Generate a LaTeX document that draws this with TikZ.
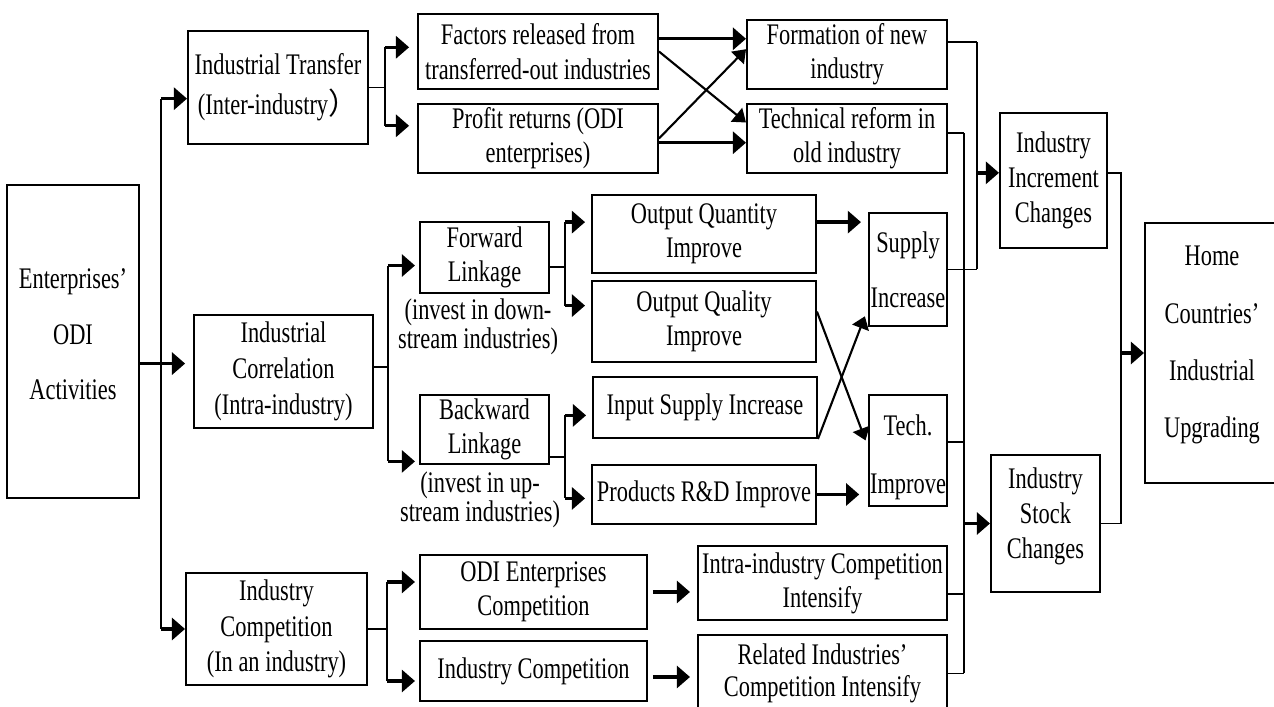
\documentclass[tikz,border=0pt]{standalone}
\usepackage{fontspec}
\setmainfont{Liberation Serif}[FakeStretch=0.75]
\newfontfamily\cjkfont{Noto Sans CJK SC}
\usetikzlibrary{arrows.meta}

\begin{document}
\begin{tikzpicture}[scale=0.2]
\tikzstyle{every node}+=[inner sep=0pt, align=center, font=\fontsize{17pt}{19.5pt}\selectfont]
\tikzstyle{box}=[draw=black, line width=1.1pt]
\tikzstyle{loose}=[font=\fontsize{17pt}{31.5pt}\selectfont]
\tikzstyle{tight}=[font=\fontsize{17pt}{16.5pt}\selectfont]
\tikzstyle{line}=[black, line width=1.1pt]
\tikzstyle{arr}=[black, line width=1.9pt, -{Triangle[length=7.5pt,width=12.5pt]}]
\tikzstyle{xarr}=[black, line width=1.2pt, -{Triangle[length=7pt,width=10pt]}]
\useasboundingbox (0,0) rectangle (127.4,-70.7);
\node [box, loose, text depth=8.4pt, minimum width=2.64cm, minimum height=6.26cm] (ent) at (7.3,-34.15) {Enterprises’\\ODI\\Activities};
\node [box, font=\fontsize{17pt}{23pt}\selectfont, minimum width=3.6cm, minimum height=2.26cm] (it) at (27.8,-8.75) {Industrial Transfer\\(Inter-industry{\cjkfont ）}};
\node [box, font=\fontsize{17pt}{20.5pt}\selectfont, minimum width=3.58cm, minimum height=2.26cm] (ic) at (28.35,-37.15) {Industrial\\Correlation\\(Intra-industry)};
\node [box, font=\fontsize{17pt}{20pt}\selectfont, minimum width=3.62cm, minimum height=2.24cm] (icp) at (27.65,-62.9) {Industry\\Competition\\(In an industry)};
\node [box, minimum width=4.8cm, minimum height=1.5cm] (fac) at (53.8,-5.15) {Factors released from\\transferred-out industries};
\node [box, minimum width=4.8cm, minimum height=1.38cm] (pr) at (53.8,-13.85) {Profit returns (ODI\\enterprises)};
\node [box, minimum width=4cm, minimum height=1.38cm] (fm) at (84.7,-5.45) {Formation of new\\industry};
\node [box, minimum width=4cm, minimum height=1.38cm] (tr) at (84.7,-13.85) {Technical reform in\\old industry};
\node [box, font=\fontsize{17pt}{20pt}\selectfont, minimum width=2.14cm, minimum height=2.7cm] (inc) at (105.35,-18.05) {Industry\\Increment\\Changes};
\node [box, font=\fontsize{17pt}{32.5pt}\selectfont, text depth=12.7pt, minimum width=2.68cm, minimum height=5.2cm] (home) at (121.2,-35.3) {Home\\Countries’\\Industrial\\Upgrading};
\node [box, minimum width=2.58cm, minimum height=1.42cm] (fl) at (48.45,-25.75) {Forward\\Linkage};
\node [tight] (flc) at (47.8,-32.7) {(invest in down-\\stream industries)};
\node [box, minimum width=2.58cm, minimum height=1.38cm] (bl) at (48.45,-42.95) {Backward\\Linkage};
\node [tight] (blc) at (48,-50) {(invest in up-\\stream industries)};
\node [box, minimum width=4.48cm, minimum height=1.56cm] (oqn) at (70.4,-23.4) {Output Quantity\\Improve};
\node [box, minimum width=4.48cm, minimum height=1.62cm] (oql) at (70.4,-32.15) {Output Quality\\Improve};
\node [box, minimum width=4.48cm, minimum height=1.22cm] (isi) at (70.5,-40.75) {Input Supply Increase};
\node [box, minimum width=4.48cm, minimum height=1.18cm] (prd) at (70.4,-49.45) {Products R\&D Improve};
\node [box, loose, minimum width=1.56cm, minimum height=2.26cm] (si) at (90.8,-26.95) {Supply\\Increase};
\node [box, font=\fontsize{17pt}{33pt}\selectfont, text height=52.6pt, minimum width=1.56cm, minimum height=2.22cm] (ti) at (90.8,-45.05) {Tech.\\Improve};
\node [box, font=\fontsize{17pt}{20pt}\selectfont, text depth=11.7pt, minimum width=2.18cm, minimum height=2.74cm] (stk) at (104.55,-52.35) {Industry\\Stock\\Changes};
\node [box, minimum width=4.54cm, minimum height=1.48cm] (oec) at (53.35,-59.2) {ODI Enterprises\\Competition};
\node [box, minimum width=4.54cm, minimum height=1.2cm] (ic2) at (53.35,-67.1) {Industry Competition};
\node [box, minimum width=4.98cm, minimum height=1.48cm] (iic) at (82.25,-58.3) {Intra-industry Competition\\Intensify};
\node [box, font=\fontsize{17pt}{18pt}\selectfont, minimum width=4.98cm, minimum height=1.54cm] (ric) at (82.25,-67.35) {Related Industries’\\Competition Intensify};
\coordinate (tk) at (16.1,0);
\coordinate (j1) at (38.5,0);
\coordinate (j2) at (38.8,0);
\coordinate (j3) at (56.5,0);
\coordinate (j4) at (38.7,0);
\coordinate (cu) at (97.7,0);
\coordinate (cs) at (96.4,0);
\coordinate (ch) at (112.1,0);
\draw [line] (tk |- it.187) -- (tk |- icp.west);
\draw [arr] (tk |- it.187) -- (it.187);
\draw [arr, shorten >=4.5pt] (ent.east |- ic.175) -- (ic.175);
\draw [arr] (tk |- icp.west) -- (icp.west);
\draw [line] (it.east) -- (j1 |- it.east);
\draw [line] (j1 |- fac.178) -- (j1 |- pr.174);
\draw [arr, shorten >=4.5pt] (j1 |- fac.178) -- (fac.178);
\draw [arr, shorten >=4.5pt] (j1 |- pr.174) -- (pr.174);
\draw [arr] (fac.6) -- (fm.west |- fac.6);
\draw [arr] (pr.-2) -- (tr.west |- pr.-2);
\draw [xarr] (fac.east) -- (tr.171);
\draw [xarr] (pr.east) -- (fm.177);
\draw [line] (ic.3) -- (j2 |- ic.3);
\draw [line] (j2 |- fl.187) -- (j2 |- bl.206);
\draw [arr, shorten >=2.3pt] (j2 |- fl.187) -- (fl.187);
\draw [arr, shorten >=2.3pt] (j2 |- bl.206) -- (bl.206);
\draw [line] (fl.-8) -- (j3 |- fl.-8);
\draw [line] (j3 |- oqn.174) -- (j3 |- oql.172);
\draw [arr, shorten >=3.4pt] (j3 |- oqn.174) -- (oqn.174);
\draw [arr, shorten >=3.4pt] (j3 |- oql.172) -- (oql.172);
\draw [line] (bl.-23) -- (j3 |- bl.-23);
\draw [line] (j3 |- isi.184) -- (j3 |- prd.182);
\draw [arr, shorten >=3.4pt] (j3 |- isi.184) -- (isi.184);
\draw [arr, shorten >=3.4pt] (j3 |- prd.182) -- (prd.182);
\draw [arr, shorten >=4pt] (oqn.6) -- (si.west |- oqn.6);
\draw [arr, shorten >=5pt] (prd.east) -- (ti.west |- prd.east);
\draw [xarr, shorten >=4pt] (oql.5) -- (ti.175);
\draw [xarr, shorten >=5pt] (isi.south east) -- (si.224);
\draw [line] (icp.east) -- (j4 |- icp.east);
\draw [line] (j4 |- oec.175) -- (j4 |- ic2.185);
\draw [arr, shorten >=2.3pt] (j4 |- oec.175) -- (oec.175);
\draw [arr, shorten >=2.3pt] (j4 |- ic2.185) -- (ic2.185);
\draw [arr, shorten <=2.8pt, shorten >=4pt] (oec.east) -- (iic.west |- oec.east);
\draw [arr, shorten <=2.8pt, shorten >=4pt] (ic2.-3) -- (ric.west |- ic2.-3);
\draw [line] (fm.7) -- (cu |- fm.7);
\draw [line] (si.east) -- (cu |- si.east);
\draw [line] (cu |- fm.7) -- (cu |- si.east);
\draw [arr] (cu |- inc.172) -- (inc.172);
\draw [line] (tr.3) -- (cs |- tr.3);
\draw [line] (ti.12) -- (cs |- ti.12);
\draw [line] (iic.-5) -- (cs |- iic.-5);
\draw [line] (ric.east) -- (cs |- ric.east);
\draw [line] (cs |- tr.3) -- (cs |- ric.east);
\draw [arr] (cs |- stk.west) -- (stk.west);
\draw [line] (inc.8) -- (ch |- inc.8) -- (ch |- stk.east) -- (stk.east);
\draw [arr] (ch |- home.west) -- (home.west);
\end{tikzpicture}
\end{document}
